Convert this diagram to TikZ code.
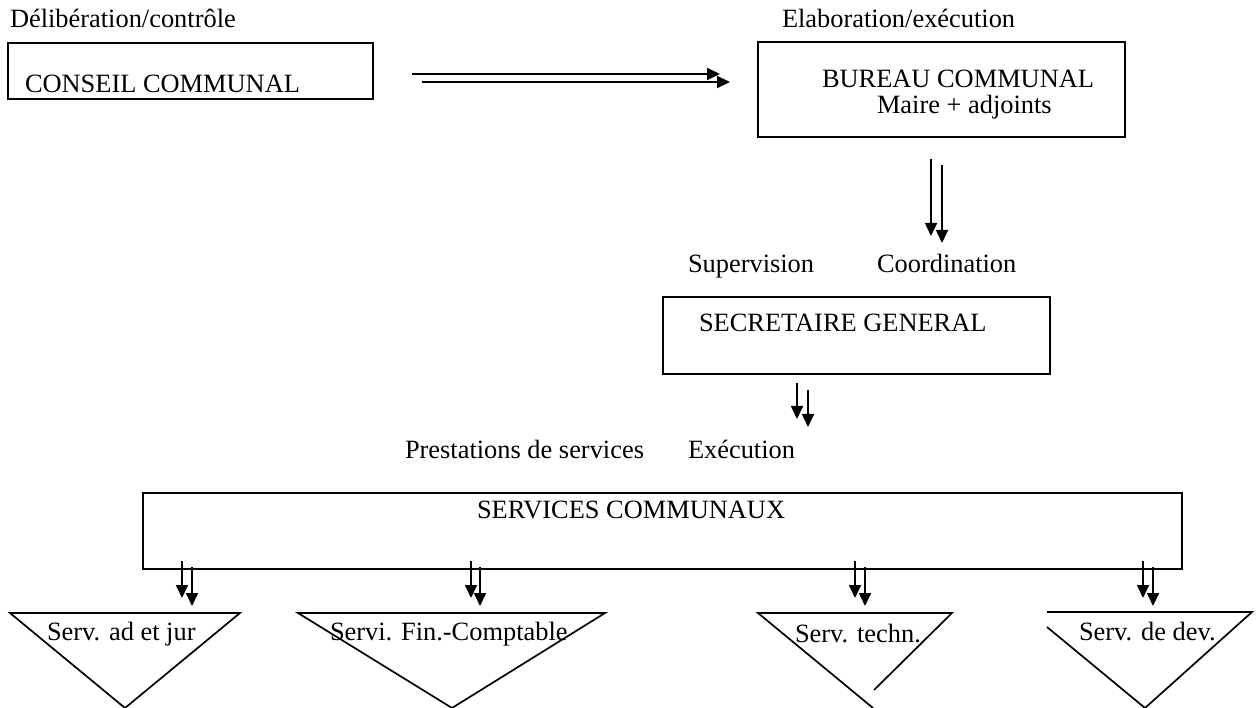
\documentclass[tikz,border=0pt]{standalone}
\usepackage{fontspec}
\setmainfont{Liberation Serif}
\usetikzlibrary{arrows.meta}
\begin{document}
\begin{tikzpicture}[x=1pt,y=-1pt,
  every node/.style={inner sep=0pt, outer sep=0pt},
  txt/.style={anchor=base west, font=\fontsize{26.4}{31}\selectfont},
  frame/.style={draw, line width=1.7pt, anchor=north west},
  link/.style={line width=1.7pt, -{Triangle[length=13pt,width=12pt]}},
  edge/.style={line width=1.7pt, line join=miter}]
\useasboundingbox (0,0) rectangle (1256,708);

% --- boxes ---
\node[frame, minimum width=365pt, minimum height=56pt] (conseil) at (8,43) {};
\node[frame, minimum width=367pt, minimum height=95pt] (bureau) at (758,42) {};
\node[frame, minimum width=387pt, minimum height=77pt] (sg) at (663,297) {};
\node[frame, minimum width=1039pt, minimum height=76pt] (services) at (143,493) {};

% --- service triangles ---
\draw[edge] (10,613) -- (240,613) -- (125,708) -- cycle;
\draw[edge] (298,613) -- (605,613) -- (452,708) -- cycle;
\draw[edge] (874,690) -- (952,613) -- (758,613) -- (873,708);
\draw[edge] (1047,612) -- (1252,612) -- (1145,708) -- (1047,627);

% --- texts ---
\node[txt] (t1) at (10,28) {Délibération/contrôle};
\node[txt] (t2) at (782,28) {Elaboration/exécution};
\node[txt] (t3) at (25,93) {CONSEIL COMMUNAL};
\node[txt] (t4) at (822,88) {BUREAU COMMUNAL};
\node[txt] (t5) at (877,114) {Maire + adjoints};
\node[txt] (t6) at (688,273) {Supervision};
\node[txt] (t7) at (877,273) {Coordination};
\node[txt] (t8) at (699,332) {SECRETAIRE GENERAL};
\node[txt] (t9) at (405,458) {Prestations de services};
\node[txt] (t10) at (688,458) {Exécution};
\node[txt] (t11) at (477,518) {SERVICES COMMUNAUX};
\node[txt] (s1) at (47,640) {Serv. ad et jur};
\node[txt] (s2) at (330,640) {Servi. Fin.-Comptable};
\node[txt] (s3) at (795,642) {Serv. techn.};
\node[txt] (s4) at (1079,640) {Serv. de dev.};

% --- arrow end points ---
\coordinate (ha1) at (412,74);  \coordinate (hb1) at (720,74);
\coordinate (ha2) at (422,82);  \coordinate (hb2) at (730,82);
\coordinate (va1) at (931,159); \coordinate (vb1) at (931,236);
\coordinate (va2) at (942,165); \coordinate (vb2) at (942,243);
\coordinate (ga1) at (797,383); \coordinate (gb1) at (797,419);
\coordinate (ga2) at (808,390); \coordinate (gb2) at (808,427);

% --- arrows ---
\draw[link] (ha1) -- (hb1);
\draw[link] (ha2) -- (hb2);
\draw[link] (va1) -- (vb1);
\draw[link] (va2) -- (vb2);
\draw[link] (ga1) -- (gb1);
\draw[link] (ga2) -- (gb2);

\foreach \a/\b [count=\i] in {182/192, 471/480, 855/865, 1143/1153} {
  \coordinate (pa\i) at (\a,561); \coordinate (pb\i) at (\a,598);
  \coordinate (qa\i) at (\b,567); \coordinate (qb\i) at (\b,606);
  \draw[link] (pa\i) -- (pb\i);
  \draw[link] (qa\i) -- (qb\i);
}
\end{tikzpicture}
\end{document}
